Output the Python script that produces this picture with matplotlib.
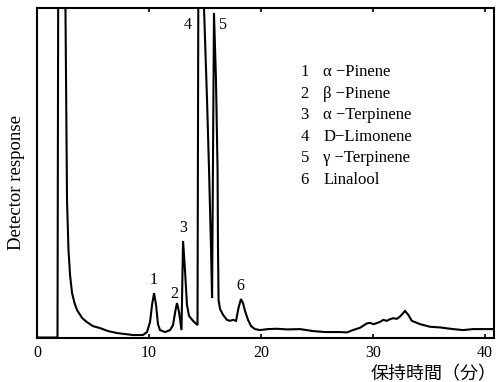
import matplotlib
matplotlib.use("Agg")
import matplotlib.pyplot as plt

# retention time (min) and detector response (arbitrary units, 0-100 full scale)
t_min = [0.0, 1.83, 1.89, 2.19, 2.54, 2.68, 2.81, 2.95, 3.13, 3.35, 3.57, 4.02,
         4.46, 5.0, 5.63, 6.34, 7.14, 8.57, 9.46, 9.82, 10.09, 10.27, 10.45,
         10.63, 10.8, 10.98, 11.43, 11.88, 12.14, 12.37, 12.5, 12.68, 12.9,
         13.04, 13.21, 13.39, 13.57, 13.93, 14.33, 14.4, 14.64, 14.91, 15.18,
         15.36, 15.54, 15.63, 15.8, 15.98, 16.12, 16.16, 16.21, 16.34, 16.61,
         16.96, 17.23, 17.5, 17.77, 17.99, 18.21, 18.39, 18.57, 18.84, 19.11,
         19.46, 19.91, 20.63, 21.43, 22.32, 23.48, 24.64, 25.71, 27.05, 27.68,
         28.21, 28.84, 29.44, 29.73, 30.03, 30.33, 30.63, 30.92, 31.22, 31.52,
         31.81, 32.12, 32.41, 32.86, 33.15, 33.46, 34.2, 35.09, 35.98, 37.14,
         38.04, 38.93, 40.18, 40.8]
response = [0.15, 0.15, 100, 190, 100, 41.8, 26.7, 19.1, 13.6, 10.6, 8.5, 6.1,
            4.8, 3.6, 3.0, 2.1, 1.5, 0.9, 0.9, 1.8, 4.8, 10.0, 13.6,
            10.0, 4.2, 2.4, 1.8, 2.4, 3.9, 8.5, 10.6, 7.9, 2.4,
            29.4, 20.6, 10.0, 6.7, 5.2, 3.9, 100, 220, 100, 72.1,
            50.9, 26.7, 12.1, 98.5, 78.2, 50.9, 26.7, 11.5, 8.8, 7.0,
            5.5, 5.2, 5.5, 5.2, 9.1, 11.8, 10.6, 8.2, 5.5, 3.6,
            2.7, 2.4, 2.7, 2.8, 2.6, 2.7, 2.1, 1.8, 1.8, 1.7,
            2.4, 3.1, 4.4, 4.6, 4.2, 4.5, 4.9, 5.5, 5.2, 5.7,
            6.0, 5.8, 6.5, 8.2, 7.0, 5.2, 4.2, 3.4, 3.2, 2.7,
            2.4, 2.7, 2.7, 2.7]

peak_ids = ["1", "2", "3", "4", "5", "6"]
peak_names = ["α −Pinene", "β −Pinene", "α −Terpinene", "D−Limonene",
              "γ −Terpinene", "Linalool"]
x_ticks = [0, 10, 20, 30, 40]

serif = ["Liberation Serif", "DejaVu Serif"]
cjk = ["Noto Sans CJK JP", "DejaVu Sans"]

fig = plt.figure(figsize=(4.96, 3.82), dpi=100)
ax = fig.add_axes([37 / 496, 1 - 338 / 382, 457 / 496, 330 / 382])
ax.plot(t_min, response, color="black", lw=1.5, solid_joinstyle="miter")
ax.set_xlim(0, 40.8)
ax.set_ylim(0, 100)

for s in ax.spines.values():
    s.set_linewidth(1.5)
ax.set_yticks([])
ax.set_xticks(x_ticks)
ax.set_xticklabels([str(v) for v in x_ticks], fontfamily=serif, fontsize=11.5)
ax.tick_params(axis="x", direction="in", length=3, width=1.2, top=True, pad=5)

ax.set_ylabel("Detector response", fontfamily=serif, fontsize=13.5)
ax.yaxis.set_label_coords(-0.026, 0.47)
ax.set_xlabel("保持時間（分）", fontfamily=cjk, fontsize=13, loc="right")
ax.xaxis.set_label_coords(1.006, -0.082)

# peak numbers above each peak
label_pos = [(10.45, 17.6), (12.23, 13.3), (13.04, 33.3), (13.45, 94.8),
             (16.55, 94.8), (18.13, 15.8)]
for pid, (x, y) in zip(peak_ids, label_pos):
    ax.text(x, y, pid, fontfamily=serif, fontsize=11.5, ha="center", va="center")

# key of compounds
for i, (pid, name) in enumerate(zip(peak_ids, peak_names)):
    y = 0.806 - i * 0.0655
    ax.text(0.586, y, pid, transform=ax.transAxes, fontfamily=serif,
            fontsize=12, ha="center", va="center")
    ax.text(0.626, y, name, transform=ax.transAxes, fontfamily=serif,
            fontsize=12, ha="left", va="center")

fig.savefig("out.png", dpi=100)
